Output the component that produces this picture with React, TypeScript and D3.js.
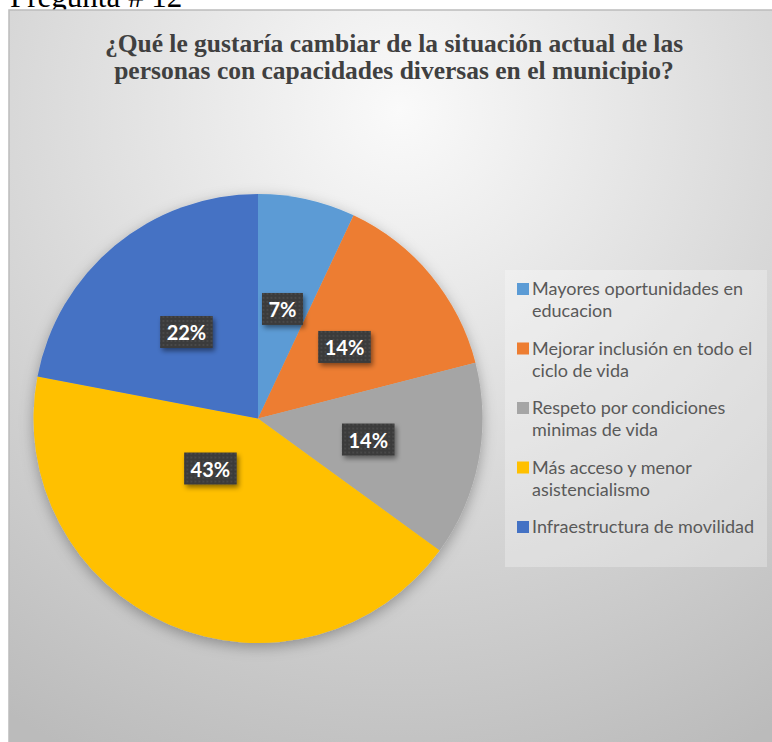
import React, { useEffect, useRef } from 'react';
import * as d3 from 'd3';

// Pie chart of survey answers, Excel-like styling: gradient card, dark
// callout labels, legend on the right.

const W = 772;
const H = 742;

const pageHeading = 'Pregunta # 12';
const titleLines = [
  '¿Qué le gustaría cambiar de la situación actual de las',
  'personas con capacidades diversas en el municipio?',
];
const categories = [
  ['Mayores oportunidades en', 'educacion'],
  ['Mejorar inclusión en todo el', 'ciclo de vida'],
  ['Respeto por condiciones', 'minimas de vida'],
  ['Más acceso y menor', 'asistencialismo'],
  ['Infraestructura de movilidad'],
];
const shares = [7, 14, 14, 43, 22];
const colors = ['#5B9BD5', '#ED7D31', '#A5A5A5', '#FFC000', '#4472C4'];

const CX = 258;
const CY = 418.5;
const R = 224.5;
// the big slice's label sits higher than its centroid in the original
const LABEL_NUDGE: Record<number, [number, number]> = { 3: [-3, -53] };

const App = () => {
  const svgRef = useRef<SVGSVGElement>(null);

  useEffect(() => {
    const svg = d3.select(svgRef.current).attr('width', W).attr('height', H);
    svg.selectAll('*').remove();

    const defs = svg.append('defs');
    const bg = defs
      .append('radialGradient')
      .attr('id', 'bg')
      .attr('gradientUnits', 'userSpaceOnUse')
      .attr('cx', 400)
      .attr('cy', 110)
      .attr('r', 720);
    bg.append('stop').attr('offset', 0).attr('stop-color', '#fafafa');
    bg.append('stop').attr('offset', 0.35).attr('stop-color', '#e4e4e4');
    bg.append('stop').attr('offset', 1).attr('stop-color', '#bbbbbb');

    const pieShadow = defs
      .append('filter')
      .attr('id', 'pieShadow')
      .attr('x', '-20%')
      .attr('y', '-20%')
      .attr('width', '140%')
      .attr('height', '140%');
    pieShadow
      .append('feDropShadow')
      .attr('dx', 0)
      .attr('dy', 4)
      .attr('stdDeviation', 7)
      .attr('flood-color', '#000')
      .attr('flood-opacity', 0.3);

    const boxShadow = defs
      .append('filter')
      .attr('id', 'boxShadow')
      .attr('x', '-30%')
      .attr('y', '-30%')
      .attr('width', '160%')
      .attr('height', '160%');
    boxShadow
      .append('feDropShadow')
      .attr('dx', 2)
      .attr('dy', 3)
      .attr('stdDeviation', 2.5)
      .attr('flood-color', '#000')
      .attr('flood-opacity', 0.45);

    const dots = defs
      .append('pattern')
      .attr('id', 'dots')
      .attr('patternUnits', 'userSpaceOnUse')
      .attr('width', 4)
      .attr('height', 4);
    dots.append('rect').attr('width', 4).attr('height', 4).attr('fill', '#3b3b3b');
    dots.append('circle').attr('cx', 1).attr('cy', 1).attr('r', 0.7).attr('fill', '#5e5e5e');

    svg.append('rect').attr('width', W).attr('height', H).attr('fill', '#fff');

    // page heading, clipped by the top of the page like in the source scan
    svg
      .append('text')
      .attr('x', 10)
      .attr('y', 7)
      .attr('font-family', '"Liberation Serif", "Times New Roman", serif')
      .attr('font-size', 31)
      .attr('fill', '#000')
      .text(pageHeading);

    // chart card
    svg
      .append('rect')
      .attr('x', 9)
      .attr('y', 10)
      .attr('width', W + 20)
      .attr('height', H + 20)
      .attr('fill', 'url(#bg)')
      .attr('stroke', '#bcbcbc')
      .attr('stroke-width', 1.5);

    const title = svg
      .append('text')
      .attr('text-anchor', 'middle')
      .attr('font-family', '"Liberation Serif", "Times New Roman", serif')
      .attr('font-weight', 'bold')
      .attr('font-size', 25.5)
      .attr('fill', '#404040');
    titleLines.forEach((line, i) => {
      title.append('tspan').attr('x', 394).attr('y', 52 + i * 27).text(line);
    });

    // pie
    const pie = d3.pie<number>().sort(null).value((d) => d);
    const arcs = pie(shares);
    const arc = d3.arc<d3.PieArcDatum<number>>().innerRadius(0).outerRadius(R);
    const labelArc = d3.arc<d3.PieArcDatum<number>>().innerRadius(R / 2).outerRadius(R / 2);
    const total = d3.sum(shares);

    const g = svg.append('g').attr('transform', `translate(${CX},${CY})`);
    g.append('g')
      .attr('filter', 'url(#pieShadow)')
      .selectAll('path')
      .data(arcs)
      .enter()
      .append('path')
      .attr('d', arc)
      .attr('fill', (_d, i) => colors[i]);

    // dark callout labels
    arcs.forEach((d, i) => {
      const [lx, ly] = labelArc.centroid(d);
      const [nx, ny] = LABEL_NUDGE[i] ?? [0, 0];
      const lab = g.append('g').attr('transform', `translate(${lx + nx},${ly + ny})`);
      const box = lab.append('rect').attr('fill', 'url(#dots)').attr('filter', 'url(#boxShadow)');
      const txt = lab
        .append('text')
        .attr('text-anchor', 'middle')
        .attr('dominant-baseline', 'central')
        .attr('font-family', 'Lato, "Open Sans", sans-serif')
        .attr('font-weight', 'bold')
        .attr('font-size', 20)
        .attr('fill', '#fff')
        .text(`${Math.round((d.data / total) * 100)}%`);
      const tw = (txt.node() as SVGTextElement).getComputedTextLength();
      const bw = tw + 13;
      const bh = 32;
      box.attr('x', -bw / 2).attr('y', -bh / 2).attr('width', bw).attr('height', bh);
    });

    // legend
    svg
      .append('rect')
      .attr('x', 505)
      .attr('y', 270)
      .attr('width', 262)
      .attr('height', 297)
      .attr('fill', '#fff')
      .attr('fill-opacity', 0.28);

    const legend = svg.append('g');
    categories.forEach((lines, i) => {
      const y0 = 295 + i * 59.5;
      legend
        .append('rect')
        .attr('x', 517)
        .attr('y', y0 - 12)
        .attr('width', 12)
        .attr('height', 12)
        .attr('fill', colors[i]);
      const t = legend
        .append('text')
        .attr('font-family', 'Lato, "Open Sans", sans-serif')
        .attr('font-size', 18)
        .attr('fill', '#595959');
      lines.forEach((line, j) => {
        t.append('tspan').attr('x', 532).attr('y', y0 + j * 22).text(line);
      });
    });
  }, []);

  return <svg ref={svgRef} style={{ position: 'absolute', left: 0, top: 0, display: 'block' }} />;
};

export default App;
